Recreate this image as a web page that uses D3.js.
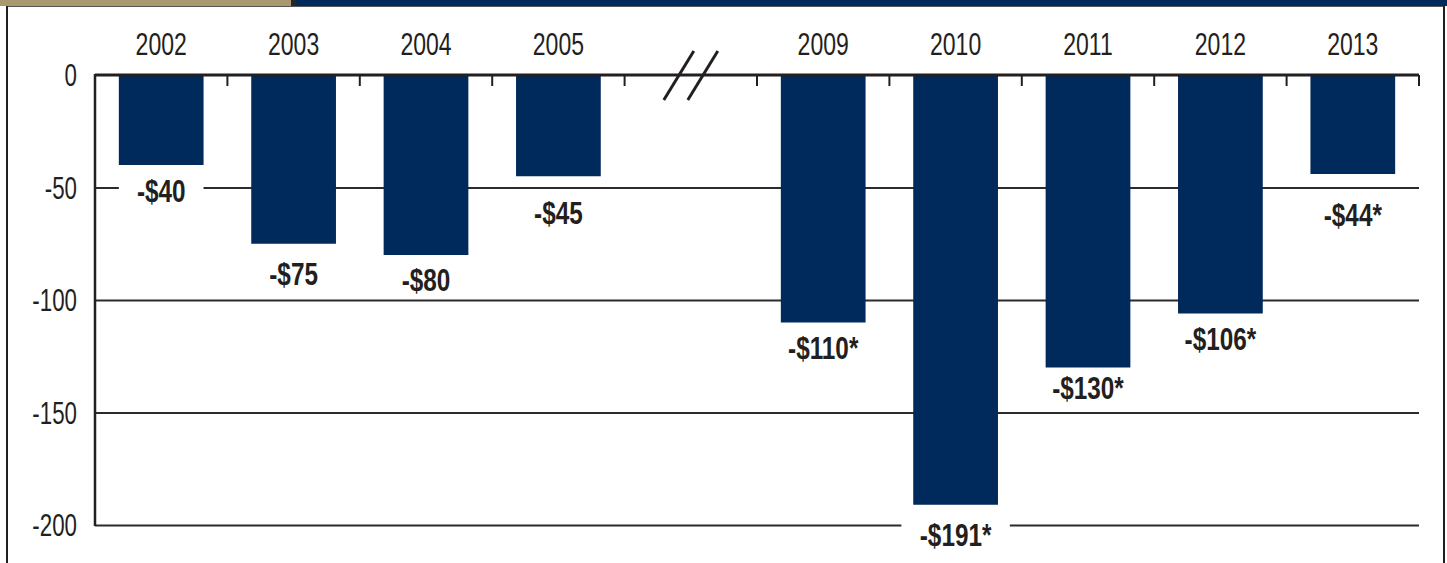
<!DOCTYPE html>
<html>
<head>
<meta charset="utf-8">
<script src="https://cdn.jsdelivr.net/npm/d3@7"></script>
<style>
  html, body { margin: 0; padding: 0; background: #fff; }
  svg { display: block; font-family: "Liberation Sans", Arial, sans-serif; }
  .year-label { font-size: 32px; fill: #231f20; }
  .y-label { font-size: 31px; fill: #231f20; }
  .value-label { font-size: 32px; font-weight: bold; fill: #231f20; }
</style>
</head>
<body>
<svg id="chart" width="1447" height="563"></svg>
<script>
// data (billions of dollars)
const years = ["2002", "2003", "2004", "2005", "2009", "2010", "2011", "2012", "2013"];
const values = [-40, -75, -80, -45, -110, -191, -130, -106, -44];
const estimated = [false, false, false, false, true, true, true, true, true];
const yTicks = [0, -50, -100, -150, -200];

// slots along the x axis, the gap holds the break mark
const slots = ["2002", "2003", "2004", "2005", "gap", "2009", "2010", "2011", "2012", "2013"];

// how far each label sits below its bar end (layout tweak, px)
const labelDrop = [25, 30, 24, 36, 25, 30, 20, 25, 40];

const colors = { bar: "#002a5c", ink: "#231f20", tan: "#a89a6e" };

// the original uses a condensed face, so squeeze the text horizontally
const squeeze = 0.72, squeezeBold = 0.76;

const W = 1447, H = 563;
const margin = { top: 75, left: 95, right: 28, bottom: 38 };
const width = W - margin.left - margin.right;
const height = H - margin.top - margin.bottom;

const svg = d3.select("#chart");

// frame: strip along the top, thin borders on the sides
svg.append("rect").attr("x", 0).attr("y", 0).attr("width", 291).attr("height", 6).attr("fill", colors.tan);
svg.append("rect").attr("x", 291).attr("y", 0).attr("width", 5).attr("height", 6).attr("fill", "#2a2626");
svg.append("rect").attr("x", 296).attr("y", 0).attr("width", W - 296).attr("height", 6).attr("fill", colors.bar);
svg.append("line").attr("x1", 6).attr("x2", 1445).attr("y1", 6.5).attr("y2", 6.5)
    .attr("stroke", "#555").attr("stroke-width", 1);
svg.append("line").attr("x1", 7).attr("x2", 7).attr("y1", 6).attr("y2", H)
    .attr("stroke", colors.ink).attr("stroke-width", 2);
svg.append("line").attr("x1", 1444).attr("x2", 1444).attr("y1", 6).attr("y2", H)
    .attr("stroke", colors.ink).attr("stroke-width", 2);

const g = svg.append("g").attr("transform", `translate(${margin.left},${margin.top})`);

const x = d3.scaleBand()
    .domain(slots)
    .range([0, width])
    .paddingInner(0.36)
    .paddingOuter(0.18);

const step = width / slots.length;

const y = d3.scaleLinear()
    .domain([0, -200])
    .range([0, height]);

// horizontal grid lines (0 line drawn separately as the top axis)
g.append("g")
    .attr("class", "grid")
    .call(d3.axisRight(y).tickValues(yTicks.slice(1)).tickSize(width).tickFormat(""))
    .call(s => s.select(".domain").remove())
    .call(s => s.selectAll("line").attr("stroke", "#2b2b2b").attr("stroke-width", 2));

// y axis labels
g.append("g")
    .selectAll("text")
    .data(yTicks)
    .join("text")
    .attr("class", "y-label")
    .attr("transform", d => `translate(-18,${y(d)}) scale(${squeeze},1)`)
    .attr("dy", "0.36em")
    .attr("text-anchor", "end")
    .text(d => d);

// left axis line
g.append("line")
    .attr("x1", 0).attr("x2", 0)
    .attr("y1", y(0) - 1).attr("y2", y(-200) + 1)
    .attr("stroke", colors.ink).attr("stroke-width", 2.5);

// bars
g.selectAll("rect.bar")
    .data(years)
    .join("rect")
    .attr("class", "bar")
    .attr("x", d => x(d))
    .attr("width", x.bandwidth())
    .attr("y", y(0))
    .attr("height", (d, i) => y(values[i]) - y(0))
    .attr("fill", colors.bar);

// top axis line with ticks between slots
g.append("line")
    .attr("x1", 0).attr("x2", width)
    .attr("y1", y(0)).attr("y2", y(0))
    .attr("stroke", colors.ink).attr("stroke-width", 3);

g.selectAll("line.tick-mark")
    .data(d3.range(1, slots.length + 1))
    .join("line")
    .attr("class", "tick-mark")
    .attr("x1", i => i * step).attr("x2", i => i * step)
    .attr("y1", y(0)).attr("y2", y(0) + 11)
    .attr("stroke", colors.ink).attr("stroke-width", 2);

// break mark
const cx = x("gap") + x.bandwidth() / 2;
[-12, 12].forEach(off => {
    g.append("line")
        .attr("x1", cx + off - 15).attr("y1", y(0) + 25)
        .attr("x2", cx + off + 15).attr("y2", y(0) - 24)
        .attr("stroke", colors.ink).attr("stroke-width", 3);
});

// year labels
g.selectAll("text.year-label")
    .data(years)
    .join("text")
    .attr("class", "year-label")
    .attr("transform", d => `translate(${x(d) + x.bandwidth() / 2},-20) scale(${squeeze},1)`)
    .attr("text-anchor", "middle")
    .text(d => d);

// value labels with white backing that breaks the grid lines
const labels = g.selectAll("g.value")
    .data(years)
    .join("g")
    .attr("class", "value")
    .attr("transform", (d, i) => `translate(${x(d) + x.bandwidth() / 2},${y(values[i]) + labelDrop[i]})`);

labels.append("text")
    .attr("class", "value-label")
    .attr("transform", `scale(${squeezeBold},1)`)
    .attr("text-anchor", "middle")
    .attr("dy", "0.36em")
    .text((d, i) => `-$${Math.abs(values[i])}${estimated[i] ? "*" : ""}`);

labels.each(function () {
    const grp = d3.select(this);
    const bb = grp.select("text").node().getBBox();
    const w = bb.width * squeezeBold;
    grp.insert("rect", "text")
        .attr("x", -w / 2 - 18)
        .attr("y", -13)
        .attr("width", w + 36)
        .attr("height", 26)
        .attr("fill", "#fff");
});
</script>
</body>
</html>
